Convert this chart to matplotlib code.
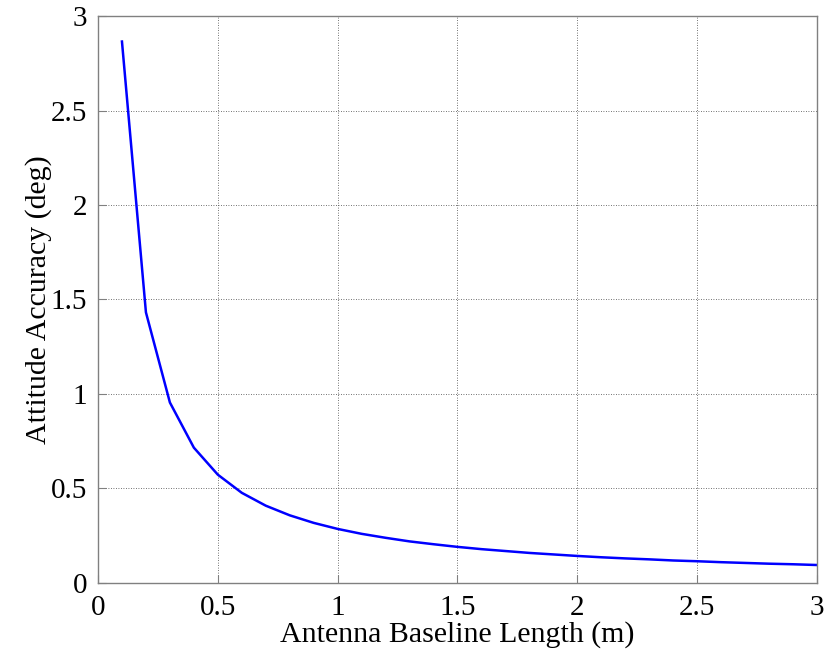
import matplotlib
matplotlib.use("Agg")
import matplotlib.pyplot as plt

baseline_m = [0.1, 0.2, 0.3, 0.4, 0.5, 0.6, 0.7, 0.8, 0.9, 1.0,
              1.1, 1.2, 1.3, 1.4, 1.5, 1.6, 1.7, 1.8, 1.9, 2.0,
              2.1, 2.2, 2.3, 2.4, 2.5, 2.6, 2.7, 2.8, 2.9, 3.0]
accuracy_deg = [2.865, 1.432, 0.955, 0.716, 0.573, 0.477, 0.409, 0.358, 0.318, 0.286,
                0.260, 0.239, 0.220, 0.205, 0.191, 0.179, 0.169, 0.159, 0.151, 0.143,
                0.136, 0.130, 0.125, 0.119, 0.115, 0.110, 0.106, 0.102, 0.099, 0.095]
xticks = [0, 0.5, 1, 1.5, 2, 2.5, 3]
yticks = [0, 0.5, 1, 1.5, 2, 2.5, 3]
xtick_labels = ["0", "0.5", "1", "1.5", "2", "2.5", "3"]
ytick_labels = ["0", "0.5", "1", "1.5", "2", "2.5", "3"]

plt.rcParams['font.family'] = ['Liberation Serif', 'DejaVu Serif']

fig = plt.figure(figsize=(8.34, 6.51), dpi=100)
ax = fig.add_axes([0.1175, 0.1045, 0.8621, 0.8709])
ax.plot(baseline_m, accuracy_deg, color='#0000ff', linewidth=1.8)
ax.set_xlim(0, 3)
ax.set_ylim(0, 3)
ax.set_xticks(xticks)
ax.set_xticklabels(xtick_labels)
ax.set_yticks(yticks)
ax.set_yticklabels(ytick_labels)
ax.grid(True, linestyle=(0, (1, 2)), color='#444444', linewidth=0.6)
for s in ax.spines.values():
    s.set_color('#808080')
    s.set_linewidth(1.0)
ax.tick_params(direction='in', length=6, color='#808080', labelsize=21,
               top=False, right=False)
ax.tick_params(axis='x', pad=9)
ax.tick_params(axis='y', pad=8)
ax.set_xlabel('Antenna Baseline Length (m)', fontsize=21.5, labelpad=0)
ax.set_ylabel('Attitude Accuracy (deg)', fontsize=21.5, labelpad=-1)
fig.savefig('out.png', dpi=100)
